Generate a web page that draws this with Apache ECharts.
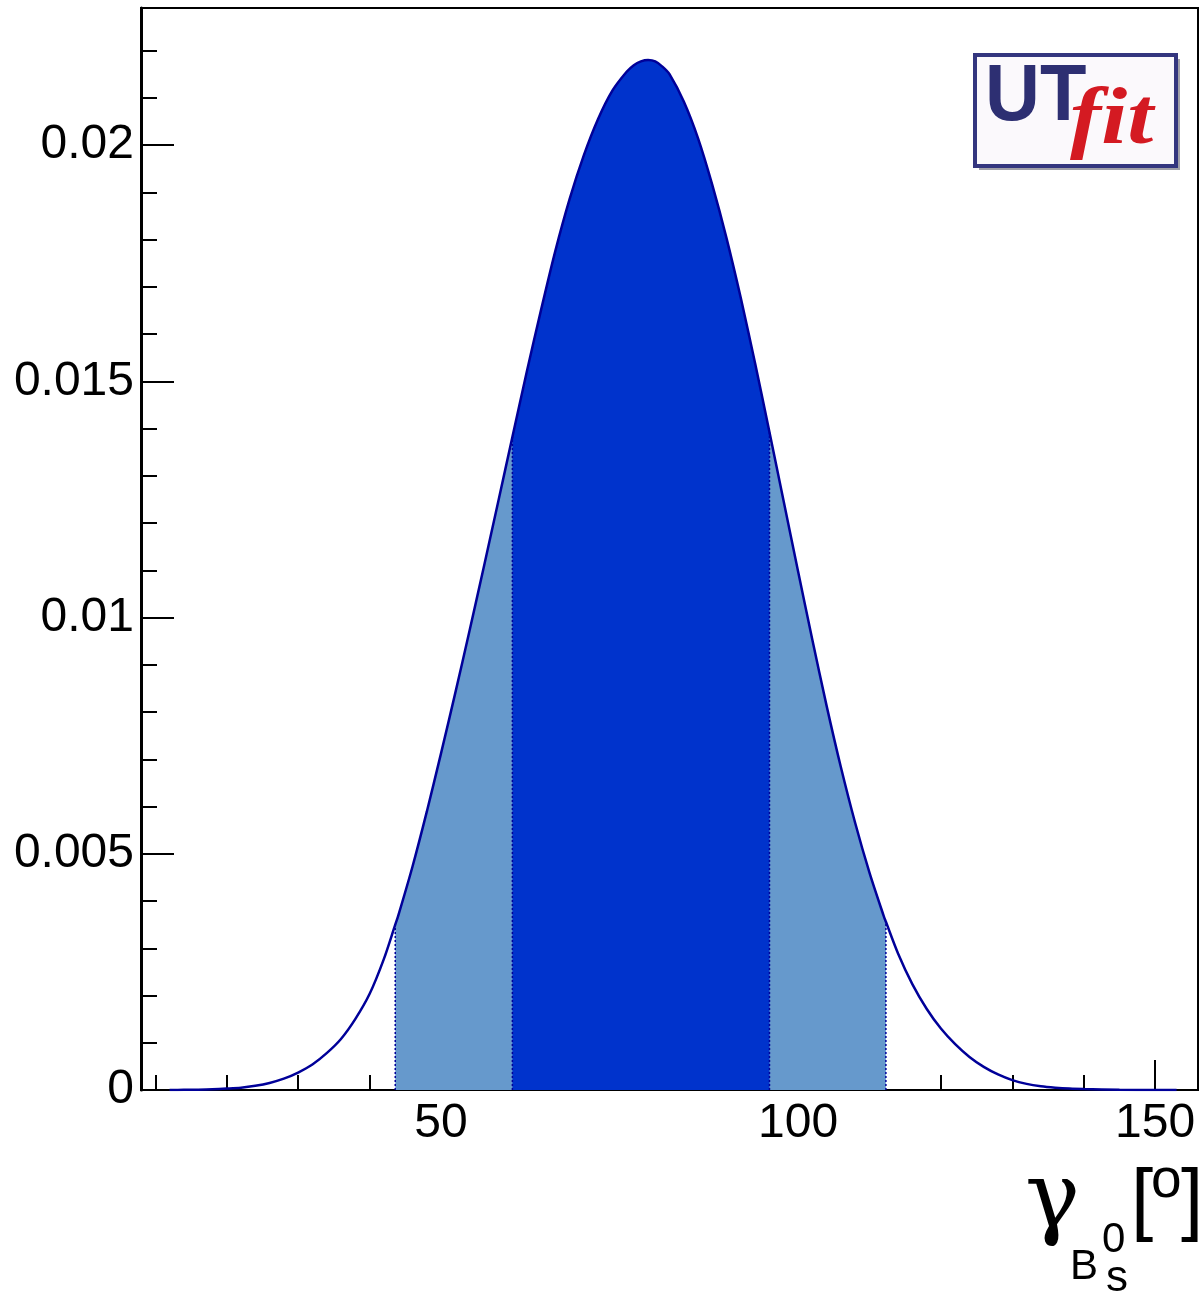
<!DOCTYPE html>
<html><head><meta charset="utf-8">
<script src="https://cdn.jsdelivr.net/npm/echarts@6/dist/echarts.min.js"></script>
<style>html,body{margin:0;padding:0;background:#fff}#c{width:1201px;height:1297px}</style>
</head><body><div id="c"></div>
<script>
// gamma (degrees) and probability density
const gammaDeg = [12,14,16,18,20,22,24,26,28,30,32,34,36,38,40,42,44,46,48,50,52,54,56,58,60,62,64,66,68,70,72,74,76,77,78,79,80,81,82,84,86,88,90,92,94,96,98,100,102,104,106,108,110,112,114,116,118,120,122,124,126,128,130,132,134,136,138,140,145,150,153];
const density = [0,0.000003,0.000007,0.000015,0.00003,0.00005,0.00009,0.00015,0.00024,0.00037,0.00054,0.00078,0.00108,0.0015,0.00203,0.00277,0.00368,0.00472,0.00588,0.00712,0.0084,0.00972,0.01107,0.01244,0.01382,0.01519,0.0165,0.01775,0.01885,0.01978,0.02055,0.02115,0.02155,0.02169,0.02177,0.0218,0.02177,0.02166,0.0215,0.02092,0.02014,0.01915,0.01802,0.01675,0.01537,0.01392,0.01245,0.01098,0.00953,0.00813,0.00683,0.00565,0.0046,0.00368,0.00289,0.00224,0.00172,0.0013,0.00097,0.0007,0.00049,0.00033,0.00021,0.00013,0.00008,0.00005,0.00003,0.00002,0.000005,0.000001,0];
// interval edges: 95% low, 68% low, 68% high, 95% high
const edgeDeg = [43.6, 60.0, 96.0, 112.3];
const edgeDensity = [0.00350, 0.01382, 0.01392, 0.00356];
const xMajorTicks = [50, 100, 150];
const xMinorTicks = [10, 20, 30, 40, 60, 70, 80, 90, 110, 120, 130, 140];
const yMajorTicks = [0, 0.005, 0.01, 0.015, 0.02];
const yMinorTicks = [0.001,0.002,0.003,0.004,0.006,0.007,0.008,0.009,0.011,0.012,0.013,0.014,0.016,0.017,0.018,0.019,0.021,0.022];

const curve = gammaDeg.map((g, i) => [g, density[i]]);
edgeDeg.forEach((g, i) => { if (!curve.some(p => Math.abs(p[0] - g) < 1e-9)) curve.push([g, edgeDensity[i]]); });
curve.sort((a, b) => a[0] - b[0]);
const slice = (lo, hi) => curve.filter(p => p[0] >= lo - 1e-9 && p[0] <= hi + 1e-9);

const SM = 0.3;
const font = '"Liberation Sans", Arial, Helvetica, sans-serif';
const series = [
  { type: 'line', data: slice(edgeDeg[0], edgeDeg[3]), smooth: SM, symbol: 'none', lineStyle: { width: 0 }, areaStyle: { color: '#6699cc', opacity: 1 }, z: 1, silent: true },
  { type: 'line', data: slice(edgeDeg[1], edgeDeg[2]), smooth: SM, symbol: 'none', lineStyle: { width: 0 }, areaStyle: { color: '#0033cc', opacity: 1 }, z: 2, silent: true }
];
edgeDeg.forEach((g, i) => series.push({ type: 'line', data: [[g, 0], [g, edgeDensity[i]]], symbol: 'none', lineStyle: { color: '#000099', width: 1.5, type: [2, 2] }, z: 3, silent: true }));
series.push({ type: 'line', data: curve, smooth: SM, symbol: 'none', lineStyle: { color: '#000099', width: 2.5 }, z: 4, silent: true });

const chart = echarts.init(document.getElementById('c'), null, { renderer: 'canvas' });
chart.setOption({
  animation: false,
  backgroundColor: '#ffffff',
  grid: { left: 141, right: 3, top: 8, bottom: 207, show: true, borderColor: '#000', borderWidth: 2, backgroundColor: 'transparent', outerBoundsMode: 'none', containLabel: false },
  xAxis: [
    { type: 'value', min: 8, max: 156, position: 'bottom', offset: 0,
      axisLine: { show: true, onZero: false, lineStyle: { color: '#000', width: 2 } },
      axisTick: { show: true, inside: true, length: 30, customValues: xMajorTicks, lineStyle: { color: '#000', width: 2 } },
      axisLabel: { show: true, customValues: xMajorTicks, margin: 10, color: '#000', fontSize: 48, fontFamily: font },
      splitLine: { show: false } },
    { type: 'value', min: 8, max: 156, position: 'bottom', offset: 0,
      axisLine: { show: false, onZero: false },
      axisTick: { show: true, inside: true, length: 15, customValues: xMinorTicks, lineStyle: { color: '#000', width: 2 } },
      axisLabel: { show: false }, splitLine: { show: false } }
  ],
  yAxis: [
    { type: 'value', min: 0, max: 0.0229, position: 'left', offset: 0,
      axisLine: { show: true, onZero: false, lineStyle: { color: '#000', width: 3 } },
      axisTick: { show: true, inside: true, length: 33, customValues: yMajorTicks, lineStyle: { color: '#000', width: 2 } },
      axisLabel: { show: true, customValues: yMajorTicks, margin: 7, color: '#000', fontSize: 48, fontFamily: font },
      splitLine: { show: false } },
    { type: 'value', min: 0, max: 0.0229, position: 'left', offset: 0,
      axisLine: { show: false, onZero: false },
      axisTick: { show: true, inside: true, length: 16, customValues: yMinorTicks, lineStyle: { color: '#000', width: 2 } },
      axisLabel: { show: false }, splitLine: { show: false } }
  ],
  series: series.map(s => Object.assign({ xAxisIndex: 0, yAxisIndex: 0 }, s)),
  graphic: [
    // UTfit logo
    { type: 'rect', shape: { x: 979, y: 59, width: 201, height: 111 }, style: { fill: '#a0a0a8' }, z: 10 },
    { type: 'rect', shape: { x: 975, y: 55, width: 201, height: 111 }, style: { fill: '#fbf9fc', stroke: '#34367f', lineWidth: 4 }, z: 11 },
    { type: 'text', x: 985, y: 98, scaleX: 0.95, style: { text: 'UT', font: 'bold 80px "Liberation Sans", Arial, sans-serif', fill: '#2d2f72', verticalAlign: 'middle', align: 'left' }, z: 12 },
    { type: 'text', x: 1070, y: 122, scaleX: 1.17, style: { text: 'fit', font: 'bold italic 80px "Liberation Serif", "Times New Roman", serif', fill: '#d41a22', verticalAlign: 'middle', align: 'left' }, z: 12 },
    // axis title  γ_{B_s^0} [°]
    { type: 'text', x: 1025, y: 1203, style: { text: 'γ', font: '92px "DejaVu Serif", "Liberation Serif", serif', fill: '#000', verticalAlign: 'middle', align: 'left' }, z: 12 },
    { type: 'text', x: 1070, y: 1267, style: { text: 'B', font: '42px "Liberation Sans", Arial, sans-serif', fill: '#000', verticalAlign: 'middle', align: 'left' }, z: 12 },
    { type: 'text', x: 1102, y: 1240, style: { text: '0', font: '42px "Liberation Sans", Arial, sans-serif', fill: '#000', verticalAlign: 'middle', align: 'left' }, z: 12 },
    { type: 'text', x: 1106, y: 1279, style: { text: 's', font: '44px "Liberation Sans", Arial, sans-serif', fill: '#000', verticalAlign: 'middle', align: 'left' }, z: 12 },
    { type: 'text', x: 1131, y: 1203, style: { text: '[', font: '80px "Liberation Sans", Arial, sans-serif', fill: '#000', verticalAlign: 'middle', align: 'left' }, z: 12 },
    { type: 'text', x: 1151, y: 1182, style: { text: 'o', font: '55px "Liberation Sans", Arial, sans-serif', fill: '#000', verticalAlign: 'middle', align: 'left' }, z: 12 },
    { type: 'text', x: 1181, y: 1203, style: { text: ']', font: '80px "Liberation Sans", Arial, sans-serif', fill: '#000', verticalAlign: 'middle', align: 'left' }, z: 12 }
  ]
});
</script></body></html>
